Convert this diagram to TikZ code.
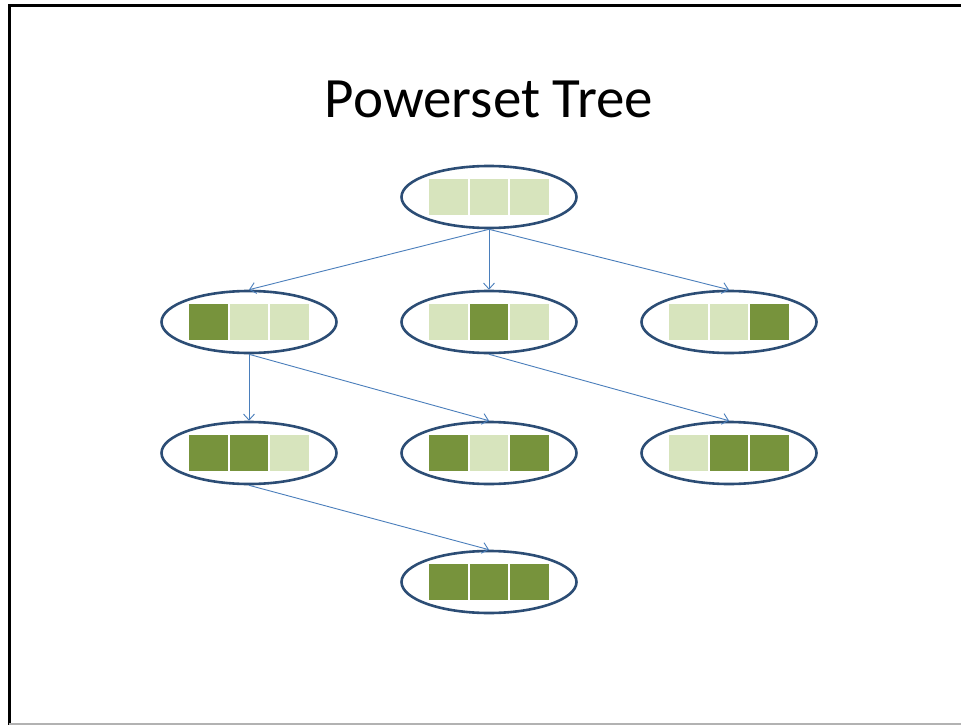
\documentclass[tikz,border=0pt]{standalone}
\usepackage{fontspec}
\setmainfont{Carlito}
\usetikzlibrary{shapes.geometric,arrows.meta}

\definecolor{cellon}{HTML}{77933C}
\definecolor{celloff}{HTML}{D7E4BD}
\definecolor{ringblue}{HTML}{2C4D75}
\definecolor{linkblue}{HTML}{4A7EBB}

\tikzset{
  setnode/.style={ellipse, draw=ringblue, line width=2.6pt, inner sep=0pt,
                  minimum width=175pt, minimum height=62pt},
  cell/.style={draw=white, line width=1.5pt},
  link/.style={draw=linkblue, line width=0.9pt,
               -{Straight Barb[length=6pt,width=11pt,line width=0.9pt]}},
}

% one subset: ellipse node plus its three membership cells
\newcommand\subsetnode[6]{%
  \node[setnode] (#1) at (#2,#3) {};
  \fill[#4, cell] ($(#1)+(-60.5,-18.5)$) rectangle ++(40,37);
  \fill[#5, cell] ($(#1)+(-20,-18.5)$) rectangle ++(40,37);
  \fill[#6, cell] ($(#1)+(20.5,-18.5)$) rectangle ++(40,37);
}
\usetikzlibrary{calc}

\begin{document}
\begin{tikzpicture}[x=1pt,y=-1pt]
  \useasboundingbox (0,0) rectangle (961,725);
  \fill[white] (0,0) rectangle (961,725);

  % slide frame
  \draw[black, line width=3pt] (9,725) -- (9,5.5) -- (961,5.5);
  \draw[black!30, line width=2pt] (9,723.5) -- (961,723.5);

  \node[font=\fontsize{57}{60}\selectfont, anchor=base] (title) at (489,117) {Powerset Tree};

  \subsetnode{e0}{489}{197}{celloff}{celloff}{celloff}
  \subsetnode{a}{249}{322}{cellon}{celloff}{celloff}
  \subsetnode{b}{489}{322}{celloff}{cellon}{celloff}
  \subsetnode{c}{729}{322}{celloff}{celloff}{cellon}
  \subsetnode{ab}{249}{453}{cellon}{cellon}{celloff}
  \subsetnode{ac}{489}{453}{cellon}{celloff}{cellon}
  \subsetnode{bc}{729}{453}{celloff}{cellon}{cellon}
  \subsetnode{abc}{489}{582}{cellon}{cellon}{cellon}

  \draw[link] (e0.south) -- (a.north);
  \draw[link] (e0.south) -- (b.north);
  \draw[link] (e0.south) -- (c.north);
  \draw[link] (a.south) -- (ab.north);
  \draw[link] (a.south) -- (ac.north);
  \draw[link] (b.south) -- (bc.north);
  \draw[link] (ab.south) -- (abc.north);
\end{tikzpicture}
\end{document}
